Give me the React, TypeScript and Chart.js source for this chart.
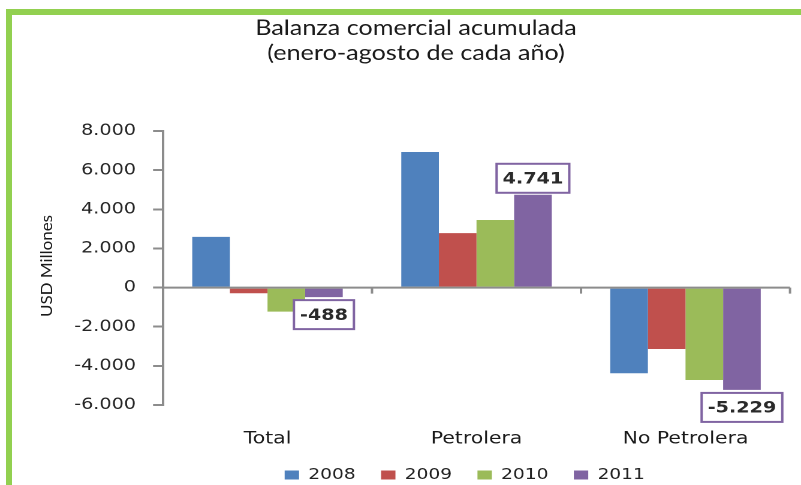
import React, { useEffect, useRef } from 'react';
import { Chart, registerables } from 'chart.js';

Chart.register(...registerables);

// ---- data ----
const categories = ['Total', 'Petrolera', 'No Petrolera'];
const seriesLabels = ['2008', '2009', '2010', '2011'];
const values2008 = [2590, 6930, -4380];
const values2009 = [-290, 2780, -3140];
const values2010 = [-1230, 3450, -4720];
const values2011 = [-488, 4741, -5229];
const seriesColors = ['#4F81BD', '#C0504D', '#9BBB59', '#8064A2'];
const yTickValues = [-6000, -4000, -2000, 0, 2000, 4000, 6000, 8000];
const titleLines = ['Balanza comercial acumulada', '(enero-agosto de cada año)'];
const yTitle = 'USD Millones';
const labelledSeries = 3;

// ---- geometry (canvas is drawn narrower and stretched horizontally by CSS) ----
const VW = 801;
const VH = 485;
const CW = 668;
const CH = 485;
const SX = VW / CW;
const PAD_LEFT = 35;
const AXIS_X = 163 / SX;
const RIGHT_X = 790 / SX;

const fmt = (v: number) => {
  const s = Math.abs(Math.round(v)).toString().replace(/\B(?=(\d{3})+(?!\d))/g, '.');
  return (v < 0 ? '-' : '') + s;
};

const zeroLinePlugin = {
  id: 'zeroLine',
  afterDatasetsDraw(chart: any) {
    const { ctx, chartArea, scales } = chart;
    const y0 = scales.y.getPixelForValue(0);
    const xs = scales.x;
    const half = (xs.getPixelForValue(1) - xs.getPixelForValue(0)) / 2;
    ctx.save();
    ctx.strokeStyle = '#8c8c8c';
    ctx.lineWidth = 2;
    ctx.beginPath();
    ctx.moveTo(chartArea.left, y0);
    ctx.lineTo(chartArea.right, y0);
    for (let i = 0; i < categories.length; i++) {
      const bx = xs.getPixelForValue(i) + half;
      ctx.moveTo(bx, y0);
      ctx.lineTo(bx, y0 + 6);
    }
    ctx.stroke();
    ctx.restore();
  },
};

const valueLabelPlugin = {
  id: 'valueLabels',
  afterDatasetsDraw(chart: any) {
    const ctx = chart.ctx;
    const meta = chart.getDatasetMeta(labelledSeries);
    const data = chart.data.datasets[labelledSeries].data as number[];
    ctx.save();
    ctx.font = 'bold 16px "DejaVu Sans"';
    meta.data.forEach((el: any, i: number) => {
      const v = data[i];
      const text = fmt(v);
      const tw = ctx.measureText(text).width;
      const w = tw + 10;
      const h = 29;
      const x = el.x - w / 2;
      const y = v >= 0 ? el.y - 2 - h : el.y + 3;
      ctx.fillStyle = '#ffffff';
      ctx.fillRect(x, y, w, h);
      ctx.strokeStyle = '#8064A2';
      ctx.lineWidth = 2;
      ctx.strokeRect(x, y, w, h);
      ctx.fillStyle = '#2a2a2a';
      ctx.textAlign = 'center';
      ctx.textBaseline = 'middle';
      ctx.fillText(text, el.x, y + h / 2 + 1);
    });
    ctx.restore();
  },
};

const yTitlePlugin = {
  id: 'yTitleCustom',
  afterDraw(chart: any) {
    const ctx = chart.ctx;
    ctx.save();
    ctx.translate(47 / SX, 266);
    ctx.rotate(-Math.PI / 2);
    ctx.font = '16px Lato';
    const w = ctx.measureText(yTitle).width;
    ctx.scale(102 / w, 0.85);
    ctx.fillStyle = '#1a1a1a';
    ctx.textAlign = 'center';
    ctx.textBaseline = 'middle';
    ctx.fillText(yTitle, 0, 0);
    ctx.restore();
  },
};

const legendShiftPlugin = {
  id: 'legendShift',
  afterLayout(chart: any) {
    if (chart.legend) {
      chart.legend.left = 285 / SX - 21.5;
    }
  },
};

export default function App() {
  const ref = useRef<HTMLCanvasElement | null>(null);

  useEffect(() => {
    if (!ref.current) return;
    const seriesValues = [values2008, values2009, values2010, values2011];
    const chart = new Chart(ref.current, {
      type: 'bar',
      data: {
        labels: categories,
        datasets: seriesLabels.map((label, i) => ({
          label,
          data: seriesValues[i],
          backgroundColor: seriesColors[i],
          borderWidth: 0,
          categoryPercentage: 0.72,
          barPercentage: 1,
        })),
      },
      options: {
        responsive: false,
        animation: false,
        devicePixelRatio: 2,
        layout: {
          padding: { left: PAD_LEFT, right: CW - RIGHT_X, top: 0, bottom: 0 },
        },
        plugins: {
          title: {
            display: true,
            text: titleLines,
            color: '#1a1a1a',
            font: { family: 'Lato', size: 21, weight: 'normal', lineHeight: 1.2 },
            padding: { top: 15.4, bottom: 65.2 },
          },
          legend: {
            position: 'bottom',
            align: 'start',
            maxHeight: 39,
            labels: {
              color: '#222',
              font: { family: 'DejaVu Sans', size: 15.5 },
              boxWidth: 12,
              boxHeight: 9,
              padding: 21.2,
            },
          },
          tooltip: { enabled: false },
        },
        scales: {
          x: {
            grid: { display: false, drawTicks: false },
            border: { display: false },
            ticks: {
              color: '#1a1a1a',
              font: { family: 'DejaVu Sans', size: 17 },
              padding: 24,
            },
            afterFit: (s: any) => {
              s.height = 41;
            },
          },
          y: {
            min: yTickValues[0],
            max: yTickValues[yTickValues.length - 1],
            grid: {
              drawOnChartArea: false,
              drawTicks: true,
              tickLength: 8.3,
              color: '#8c8c8c',
              lineWidth: 2,
            },
            border: { display: true, color: '#8c8c8c', width: 2 },
            ticks: {
              stepSize: yTickValues[1] - yTickValues[0],
              color: '#262626',
              font: { family: 'DejaVu Sans', size: 16 },
              padding: 14.2,
              callback: (v: any) => fmt(Number(v)),
            },
            afterFit: (s: any) => {
              s.width = AXIS_X - PAD_LEFT;
            },
          },
        },
      },
      plugins: [zeroLinePlugin, valueLabelPlugin, yTitlePlugin, legendShiftPlugin],
    });
    return () => chart.destroy();
  }, []);

  return (
    <div
      style={{
        position: 'absolute',
        left: 0,
        top: 0,
        width: VW,
        height: VH,
        background: '#ffffff',
        overflow: 'hidden',
      }}
    >
      <div
        style={{
          position: 'absolute',
          left: 6,
          top: 9,
          right: 0,
          bottom: 0,
          borderLeft: '6px solid #92D050',
          borderTop: '6px solid #92D050',
        }}
      />
      <canvas
        ref={ref}
        width={CW}
        height={CH}
        style={{ position: 'absolute', left: 0, top: 0, width: VW, height: VH }}
      />
    </div>
  );
}
